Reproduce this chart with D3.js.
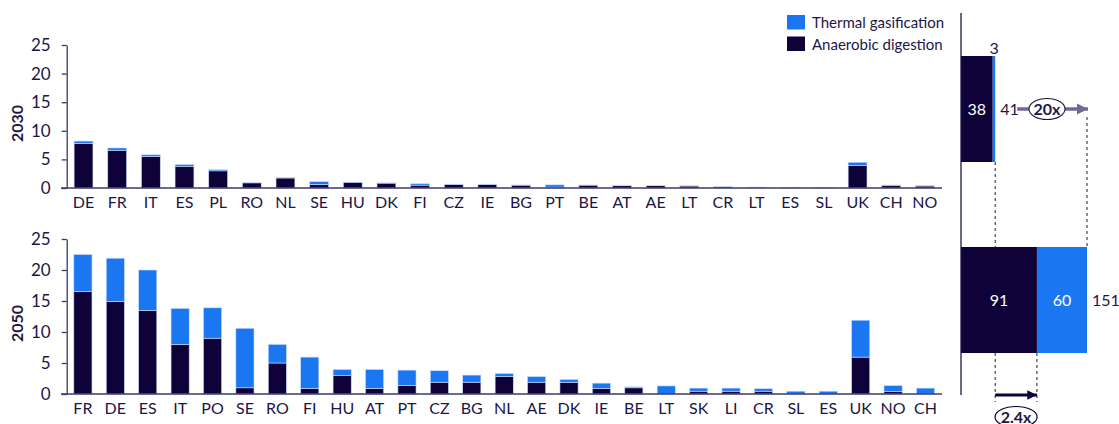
<!DOCTYPE html>
<html>
<head>
<meta charset="utf-8">
<script src="https://cdn.jsdelivr.net/npm/d3@7"></script>
<style>
  body { margin: 0; background: #fff; }
  svg { display: block; font-family: Lato, "Open Sans", sans-serif; }
</style>
</head>
<body>
<svg id="chart" width="1119" height="424"></svg>
<script>
// ── Data ────────────────────────────────────────────────────────────────────
const cats2030 = ["DE","FR","IT","ES","PL","RO","NL","SE","HU","DK","FI","CZ","IE","BG","PT","BE","AT","AE","LT","CR","LT","ES","SL","UK","CH","NO"];
const ad2030   = [7.8,6.6,5.5,3.8,3.0,0.9,1.75,0.6,1.0,0.85,0.5,0.6,0.6,0.5,0.15,0.5,0.4,0.4,0.35,0.2,0.05,0,0,3.95,0.45,0.35];
const tg2030   = [0.4,0.4,0.3,0.3,0.2,0.1,0.1,0.5,0.05,0.03,0.25,0.04,0.03,0.02,0.4,0.02,0.1,0.02,0.02,0.02,0.12,0.1,0.1,0.55,0.07,0.05];

const cats2050 = ["FR","DE","ES","IT","PO","SE","RO","FI","HU","AT","PT","CZ","BG","NL","AE","DK","IE","BE","LT","SK","LI","CR","SL","ES","UK","NO","CH"];
const ad2050   = [16.5,14.9,13.5,8.0,9.0,1.0,5.0,0.9,2.95,0.9,1.4,1.9,1.9,2.85,1.9,1.9,0.9,1.0,0,0.45,0.45,0.45,0,0,5.95,0.4,0];
const tg2050   = [6.0,7.0,6.5,5.8,4.9,9.6,3.0,5.05,1.0,3.05,2.45,1.85,1.15,0.45,0.9,0.45,0.85,0.15,1.3,0.5,0.5,0.4,0.45,0.45,5.95,0.95,0.95];

const yTicks = [0, 5, 10, 15, 20, 25];

const totalYears = ["2030", "2050"];
const totalAD    = [38, 91];
const totalTG    = [3, 60];
const totalSum   = [41, 151];
const growthLabels = ["20x", "2.4x"];

const seriesNames = ["Thermal gasification", "Anaerobic digestion"];

// ── Style ───────────────────────────────────────────────────────────────────
const C_AD   = "#0e0239";
const C_TG   = "#1b76f1";
const C_TEXT = "#1c1747";
const C_AXIS = "#3d3966";
const C_GREY = "#6f6a91";

const svg = d3.select("#chart");

// ── Country panels ──────────────────────────────────────────────────────────
function drawPanel(cats, ad, tg, year, top, bottom) {
  const x = d3.scaleBand()
    .domain(d3.range(cats.length))
    .range([66.7, 941.7])
    .paddingInner(0.44)
    .paddingOuter(0.22);

  const y = d3.scaleLinear().domain([0, 25]).range([bottom, top]);

  const stack = d3.stack().keys(["ad", "tg"])(
    cats.map((c, i) => ({ i, ad: ad[i], tg: tg[i] }))
  );
  const colors = { ad: C_AD, tg: C_TG };

  const g = svg.append("g");
  stack.forEach(layer => {
    g.selectAll(null)
      .data(layer.filter(d => d[1] - d[0] > 0))
      .join("rect")
      .attr("x", d => x(d.data.i))
      .attr("width", x.bandwidth())
      .attr("y", d => y(d[1]))
      .attr("height", d => y(d[0]) - y(d[1]))
      .attr("fill", colors[layer.key])
      .attr("stroke", "#c9dcf8")
      .attr("stroke-width", 0.6);
  });

  // y axis
  const yAxis = svg.append("g")
    .attr("transform", `translate(66.7,0)`)
    .call(d3.axisLeft(y).tickValues(yTicks).tickSize(5).tickSizeOuter(0).tickPadding(11));
  yAxis.select(".domain").attr("stroke", C_AXIS).attr("stroke-width", 1.3);
  yAxis.selectAll(".tick line").attr("stroke", C_AXIS).attr("stroke-width", 1.3);
  yAxis.selectAll(".tick text")
    .attr("fill", C_TEXT).attr("font-size", "17px").attr("font-family", "Lato, sans-serif");

  // x axis
  const xAxis = svg.append("g")
    .attr("transform", `translate(0,${bottom})`)
    .call(d3.axisBottom(x).tickSize(0).tickPadding(9).tickFormat(i => cats[i]));
  xAxis.select(".domain").remove();
  xAxis.selectAll(".tick text")
    .attr("fill", C_TEXT).attr("font-size", "16px").attr("font-family", "Lato, sans-serif");
  svg.append("line")
    .attr("x1", 61).attr("x2", 942)
    .attr("y1", bottom).attr("y2", bottom)
    .attr("stroke", C_AXIS).attr("stroke-width", 1.5);

  // year title
  svg.append("text")
    .attr("transform", `translate(23,${(top + bottom) / 2 + 7}) rotate(-90)`)
    .attr("text-anchor", "middle")
    .attr("font-weight", "bold")
    .attr("font-size", "16px")
    .attr("fill", C_TEXT)
    .text(year);
}

drawPanel(cats2030, ad2030, tg2030, "2030", 45, 188);
drawPanel(cats2050, ad2050, tg2050, "2050", 239, 394);

// ── Legend ──────────────────────────────────────────────────────────────────
const legend = svg.append("g").attr("transform", "translate(787,15)");
[C_TG, C_AD].forEach((col, i) => {
  legend.append("rect")
    .attr("x", 0).attr("y", i * 21.5)
    .attr("width", 18).attr("height", 14.5)
    .attr("fill", col);
  legend.append("text")
    .attr("x", 25).attr("y", i * 21.5 + 13)
    .attr("font-size", "15px")
    .attr("fill", C_TEXT)
    .text(seriesNames[i]);
});

// ── Totals panel ────────────────────────────────────────────────────────────
const xT = d3.scaleLinear().domain([0, 151]).range([961, 1087]);
const yT = d3.scaleBand().domain(totalYears).range([56, 353]).paddingInner(0.445);

const tp = svg.append("g");

// dashed guides
const dash = (x, y1, y2) => tp.append("line")
  .attr("x1", x).attr("x2", x).attr("y1", y1).attr("y2", y2)
  .attr("stroke", C_TEXT).attr("stroke-width", 1).attr("stroke-dasharray", "3,3");

const b0 = yT("2030"), b1 = yT("2050"), bh = yT.bandwidth();
dash(xT(totalSum[0]), b0 + bh, b1);
dash(xT(totalSum[0]), b1 + bh, 402);
dash(xT(totalSum[1]), b0 + bh / 2 + 8, b1);
dash(xT(totalAD[1]), b1 + bh, 402);

totalYears.forEach((yr, i) => {
  tp.append("rect")
    .attr("x", xT(0)).attr("y", yT(yr))
    .attr("width", xT(totalAD[i]) - xT(0)).attr("height", bh)
    .attr("fill", C_AD);
  tp.append("rect")
    .attr("x", xT(totalAD[i])).attr("y", yT(yr))
    .attr("width", xT(totalSum[i]) - xT(totalAD[i])).attr("height", bh)
    .attr("fill", C_TG);
  tp.append("text")
    .attr("x", (xT(0) + xT(totalAD[i])) / 2).attr("y", yT(yr) + bh / 2 + 6)
    .attr("text-anchor", "middle").attr("font-size", "16px").attr("fill", "#fff")
    .text(totalAD[i]);
});

// TG value labels
tp.append("text")
  .attr("x", xT(totalSum[0]) - 1).attr("y", b0 - 2)
  .attr("text-anchor", "middle").attr("font-size", "16px").attr("fill", C_TEXT)
  .text(totalTG[0]);
tp.append("text")
  .attr("x", (xT(totalAD[1]) + xT(totalSum[1])) / 2).attr("y", b1 + bh / 2 + 6)
  .attr("text-anchor", "middle").attr("font-size", "16px").attr("fill", "#fff")
  .text(totalTG[1]);

// totals
tp.append("text")
  .attr("x", xT(totalSum[0]) + 5).attr("y", b0 + bh / 2 + 6)
  .attr("font-size", "16px").attr("fill", C_TEXT)
  .text(totalSum[0]);
tp.append("text")
  .attr("x", xT(totalSum[1]) + 5).attr("y", b1 + bh / 2 + 6)
  .attr("font-size", "16px").attr("fill", C_TEXT)
  .text(totalSum[1]);

// vertical baseline
tp.append("line")
  .attr("x1", xT(0)).attr("x2", xT(0)).attr("y1", 13).attr("y2", 395)
  .attr("stroke", C_TEXT).attr("stroke-width", 1.3);

// growth arrows
const defs = svg.append("defs");
[["ahGrey", C_GREY], ["ahNavy", C_AD]].forEach(([id, col]) => {
  defs.append("marker")
    .attr("id", id).attr("viewBox", "0 0 10 10")
    .attr("refX", 10).attr("refY", 5)
    .attr("markerWidth", 3.2).attr("markerHeight", 3.2)
    .attr("markerUnits", "strokeWidth")
    .attr("orient", "auto")
    .append("path").attr("d", "M0,0 L10,5 L0,10 Z").attr("fill", col);
});

const ay0 = b0 + bh / 2;
tp.append("line")
  .attr("x1", xT(totalSum[0]) + 22).attr("x2", xT(totalSum[1]) + 1)
  .attr("y1", ay0).attr("y2", ay0)
  .attr("stroke", C_GREY).attr("stroke-width", 3.5)
  .attr("marker-end", "url(#ahGrey)");
const cx0 = 1047;
tp.append("ellipse")
  .attr("cx", cx0).attr("cy", ay0).attr("rx", 18).attr("ry", 10.5)
  .attr("fill", "#fff").attr("stroke", C_TEXT).attr("stroke-width", 1.1);
tp.append("text")
  .attr("x", cx0).attr("y", ay0 + 5.5)
  .attr("text-anchor", "middle").attr("font-size", "16px").attr("font-weight", "bold")
  .attr("fill", C_TEXT).text(growthLabels[0]);

const ay1 = 395;
tp.append("line")
  .attr("x1", xT(totalSum[0])).attr("x2", xT(totalAD[1]))
  .attr("y1", ay1).attr("y2", ay1)
  .attr("stroke", C_AD).attr("stroke-width", 3)
  .attr("marker-end", "url(#ahNavy)");
const cx1 = (xT(totalSum[0]) + xT(totalAD[1])) / 2;
tp.append("ellipse")
  .attr("cx", cx1).attr("cy", 417).attr("rx", 21).attr("ry", 10.5)
  .attr("fill", "#fff").attr("stroke", C_AD).attr("stroke-width", 1.2);
tp.append("text")
  .attr("x", cx1).attr("y", 422.5)
  .attr("text-anchor", "middle").attr("font-size", "16px").attr("font-weight", "bold")
  .attr("fill", C_TEXT).text(growthLabels[1]);
</script>
</body>
</html>
